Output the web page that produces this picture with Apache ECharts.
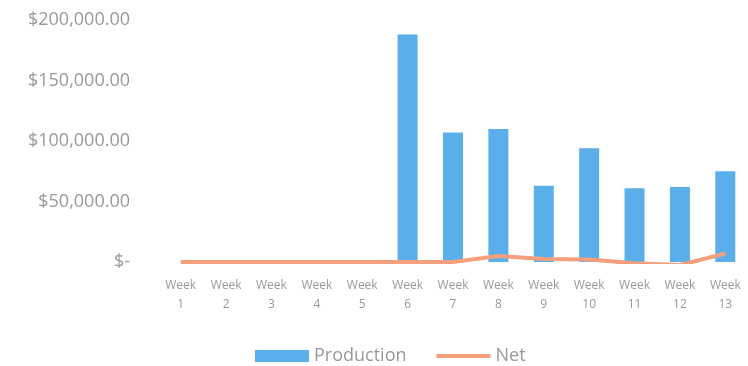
<!DOCTYPE html>
<html>
<head>
<meta charset="utf-8">
<script src="https://cdn.jsdelivr.net/npm/echarts@6/dist/echarts.min.js"></script>
<style>
  html, body { margin: 0; padding: 0; background: #fff; }
  #chart { width: 748px; height: 366px; }
</style>
</head>
<body>
<div id="chart"></div>
<script>
var weeks = ['Week\n1', 'Week\n2', 'Week\n3', 'Week\n4', 'Week\n5', 'Week\n6', 'Week\n7',
             'Week\n8', 'Week\n9', 'Week\n10', 'Week\n11', 'Week\n12', 'Week\n13'];
var production = [0, 0, 0, 0, 0, 188000, 107000, 110000, 63000, 94000, 61000, 62000, 75000];
var net = [0, 0, 0, 0, 0, 0, 0, 5000, 2500, 2000, -1000, -2500, 7000];
var yTicks = [0, 50000, 100000, 150000, 200000];

function money(v) { //Excel accounting style
    if (v === 0) return '$-';
    return '$' + v.toLocaleString('en-US', { minimumFractionDigits: 2, maximumFractionDigits: 2 });
}

var chart = echarts.init(document.getElementById('chart'));

var option = {
    animation: false,
    textStyle: { fontFamily: 'Open Sans', color: '#999' },
    grid: { left: 158, right: -7, top: 20, bottom: 104 },
    legend: {
        left: 250,
        top: 342,
        itemWidth: 54,
        itemHeight: 12,
        itemGap: 30,
        textStyle: { fontSize: 18, color: '#999', fontFamily: 'Open Sans' },
        data: [
            { name: 'Production', icon: 'rect' },
            { name: 'Net', icon: 'path://M0,0 L100,0 L100,7 L0,7 Z' }
        ]
    },
    xAxis: {
        type: 'category',
        data: weeks,
        axisLine: { show: false },
        axisTick: { show: false },
        axisLabel: { fontSize: 12, color: '#999', lineHeight: 19, margin: 14, interval: 0 }
    },
    yAxis: {
        type: 'value',
        min: yTicks[0],
        max: yTicks[yTicks.length - 1],
        interval: 50000,
        splitLine: { show: false },
        axisLine: { show: false },
        axisLabel: { fontSize: 18, color: '#999', margin: 28, formatter: money }
    },
    series: [{
        name: 'Production',
        type: 'bar',
        data: production,
        barWidth: 20,
        itemStyle: { color: '#5aaeea' }
    }, {
        name: 'Net',
        type: 'line',
        data: net,
        symbol: 'none',
        lineStyle: { color: '#f4a07c', width: 4 },
        itemStyle: { color: '#f4a07c' }
    }]
};

chart.setOption(option);
</script>
</body>
</html>
